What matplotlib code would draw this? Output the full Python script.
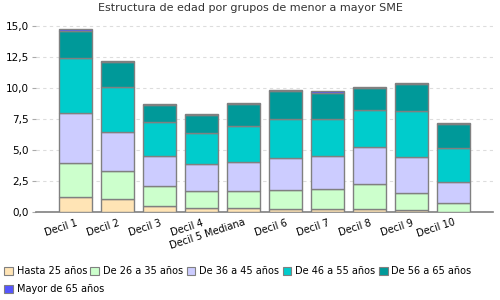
import matplotlib.pyplot as plt
import numpy as np
from matplotlib.patches import Patch
from matplotlib.ticker import FuncFormatter

deciles = ['Decil 1', 'Decil 2', 'Decil 3', 'Decil 4', 'Decil 5 Mediana',
           'Decil 6', 'Decil 7', 'Decil 8', 'Decil 9', 'Decil 10']

hasta25 = [1.18, 1.02, 0.46, 0.30, 0.30, 0.22, 0.22, 0.22, 0.13, 0.02]
de26_35 = [2.74, 2.26, 1.61, 1.37, 1.37, 1.53, 1.61, 2.01, 1.38, 0.68]
de36_45 = [4.09, 3.20, 2.42, 2.17, 2.33, 2.58, 2.66, 2.99, 2.90, 1.75]
de46_55 = [4.46, 3.65, 2.74, 2.50, 2.91, 3.14, 2.98, 2.98, 3.71, 2.68]
de56_65 = [2.15, 1.99, 1.43, 1.46, 1.83, 2.26, 2.15, 1.85, 2.18, 1.94]
mayor65 = [0.16, 0.11, 0.04, 0.08, 0.10, 0.11, 0.11, 0.08, 0.08, 0.13]

series = [hasta25, de26_35, de36_45, de46_55, de56_65, mayor65]
labels = ['Hasta 25 años', 'De 26 a 35 años', 'De 36 a 45 años',
          'De 46 a 55 años', 'De 56 a 65 años', 'Mayor de 65 años']
colors = ['#FFE4B5', '#CCFFCC', '#CCCCFF', '#00CCCC', '#009999', '#5555FF']

fig = plt.figure(figsize=(5, 3), dpi=100)
ax = fig.add_axes([0.072, 0.2933, 0.914, 0.64])

x = np.arange(len(deciles))
bottom = np.zeros(len(deciles))
for vals, col, lab in zip(series, colors, labels):
    ax.bar(x, vals, 0.79, bottom=bottom, color=col, edgecolor='#808080',
           linewidth=1, label=lab, zorder=3)
    bottom += np.array(vals)

ax.set_xlim(-0.94, 9.94)
ax.set_ylim(0, 15.5)
ax.set_yticks(np.arange(0, 15.1, 2.5))
ax.yaxis.set_major_formatter(FuncFormatter(lambda v, p: f'{v:.1f}'.replace('.', ',')))
ax.grid(axis='y', color='#dddddd', linestyle=(0, (3, 3)), linewidth=0.8, zorder=0)

for s in ['top', 'right', 'left']:
    ax.spines[s].set_visible(False)
ax.spines['bottom'].set_color('#808080')
ax.spines['bottom'].set_linewidth(1.2)

ax.tick_params(axis='y', length=3, color='#aaaaaa', labelsize=7.5, pad=2)
ax.tick_params(axis='x', length=0, labelsize=7, pad=4)
ax.set_xticks(x)
ax.set_xticklabels(deciles, rotation=18, ha='right', rotation_mode='anchor')

fig.text(0.5, 0.972, 'Estructura de edad por grupos de menor a mayor SME',
         ha='center', va='center', fontsize=8, color='#333333')

handles = [Patch(facecolor=c, edgecolor='#808080', linewidth=0.8) for c in colors]
leg_kw = dict(frameon=False, fontsize=7, handlelength=0.9, handleheight=0.9,
              handletextpad=0.4, columnspacing=0.35, borderaxespad=0, borderpad=0)
fig.legend(handles[:5], labels[:5], ncol=5, loc='center left',
           bbox_to_anchor=(0.008, 0.097), **leg_kw)
fig.legend(handles[5:], labels[5:], ncol=1, loc='center left',
           bbox_to_anchor=(0.008, 0.037), **leg_kw)

fig.savefig('out.png', dpi=100)
